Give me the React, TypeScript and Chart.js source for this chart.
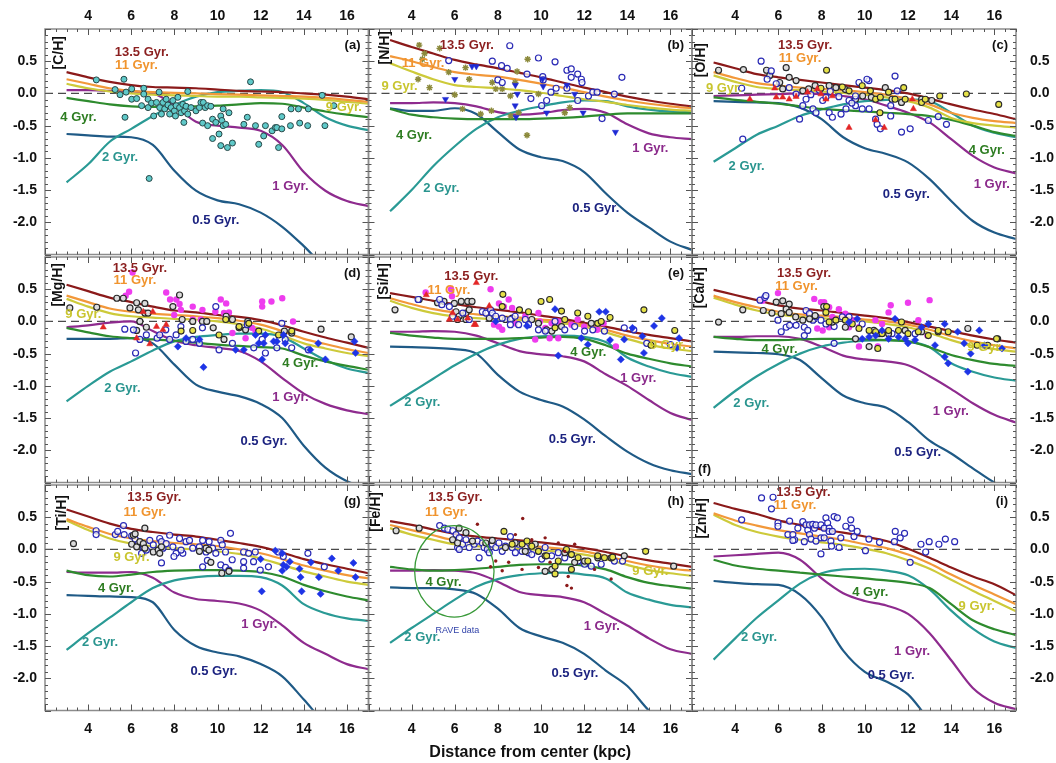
import React, { useEffect, useRef } from 'react';
import { Chart, registerables } from 'chart.js';

Chart.register(...registerables);

const W = 1056;
const H = 763;
const FONT = '"Liberation Sans", Arial, Helvetica, sans-serif';

const X_MIN = 2;
const X_MAX = 17;
const Y_MIN = -2.5;
const Y_MAX = 1.0;
const X_TICKS = [4, 6, 8, 10, 12, 14, 16];
const Y_TICKS = [-2.0, -1.5, -1.0, -0.5, 0.0, 0.5];
const MODEL_R = [3, 4, 5, 6, 7, 8, 9, 10, 11, 12, 13, 14, 15, 16, 17];
const AGE_LABELS = ['13.5 Gyr.', '11 Gyr.', '9 Gyr.', '4 Gyr.', '2 Gyr.', '1 Gyr.', '0.5 Gyr.'];
const X_TITLE = 'Distance from center (kpc)';

// ---------- model curves (R = 3..17 kpc) ----------
// (a) [C/H]
const CH_135 = [0.33, 0.25, 0.18, 0.13, 0.10, 0.09, 0.08, 0.06, 0.04, 0.03, 0.02, 0.00, -0.02, -0.05, -0.09];
const CH_11 = [0.22, 0.15, 0.08, 0.04, 0.02, 0.01, 0.00, -0.01, -0.02, -0.03, -0.04, -0.05, -0.07, -0.10, -0.13];
const CH_9 = [0.15, 0.08, 0.03, 0.00, -0.02, -0.03, -0.04, -0.05, -0.05, -0.06, -0.07, -0.08, -0.10, -0.13, -0.16];
const CH_4 = [-0.07, -0.12, -0.17, -0.20, -0.21, -0.21, -0.20, -0.19, -0.17, -0.15, -0.16, -0.22, -0.28, -0.33, -0.37];
const CH_2 = [-1.38, -1.10, -0.75, -0.55, -0.35, -0.18, -0.05, 0.02, 0.04, 0.05, 0.02, -0.15, -0.37, -0.50, -0.57];
const CH_1 = [0.05, 0.05, 0.04, 0.03, 0.00, -0.18, -0.44, -0.50, -0.53, -0.58, -0.80, -1.22, -1.51, -1.67, -1.75];
const CH_05 = [-0.63, -0.65, -0.67, -0.68, -0.80, -1.20, -1.51, -1.66, -1.72, -1.85, -2.07, -2.37, -2.70, -2.90, -3.10];
// (b) [N/H]
const NH_135 = [0.83, 0.72, 0.62, 0.52, 0.45, 0.39, 0.32, 0.25, 0.17, 0.09, 0.02, -0.05, -0.11, -0.16, -0.20];
const NH_11 = [0.58, 0.50, 0.41, 0.33, 0.29, 0.26, 0.21, 0.15, 0.09, 0.02, -0.05, -0.11, -0.16, -0.20, -0.23];
const NH_9 = [0.47, 0.34, 0.22, 0.13, 0.10, 0.08, 0.05, 0.01, -0.04, -0.09, -0.13, -0.18, -0.22, -0.25, -0.27];
const NH_4 = [-0.24, -0.33, -0.37, -0.39, -0.40, -0.40, -0.40, -0.39, -0.38, -0.36, -0.33, -0.31, -0.31, -0.31, -0.31];
const NH_2 = [-1.83, -1.50, -1.13, -0.82, -0.55, -0.37, -0.27, -0.20, -0.14, -0.11, -0.12, -0.20, -0.25, -0.28, -0.29];
const NH_1 = [-0.15, -0.15, -0.14, -0.15, -0.20, -0.29, -0.33, -0.31, -0.26, -0.24, -0.30, -0.48, -0.62, -0.68, -0.71];
const NH_05 = [-0.23, -0.27, -0.27, -0.23, -0.32, -0.60, -0.87, -0.99, -1.05, -1.22, -1.55, -1.85, -2.08, -2.30, -2.43];
// (c) [O/H]
const OH_135 = [0.48, 0.39, 0.30, 0.25, 0.21, 0.17, 0.13, 0.09, 0.05, 0.00, -0.08, -0.17, -0.25, -0.32, -0.40];
const OH_11 = [0.33, 0.24, 0.16, 0.12, 0.09, 0.07, 0.05, 0.02, -0.02, -0.08, -0.17, -0.30, -0.38, -0.43, -0.46];
const OH_9 = [0.28, 0.18, 0.10, 0.07, 0.05, 0.03, 0.01, -0.02, -0.06, -0.12, -0.22, -0.38, -0.46, -0.50, -0.53];
const OH_4 = [-0.06, -0.10, -0.13, -0.16, -0.20, -0.24, -0.26, -0.28, -0.30, -0.32, -0.35, -0.41, -0.50, -0.60, -0.66];
const OH_2 = [-1.06, -0.85, -0.64, -0.50, -0.35, -0.25, -0.17, -0.12, -0.10, -0.09, -0.12, -0.30, -0.50, -0.61, -0.68];
const OH_1 = [-0.04, -0.03, -0.02, -0.01, 0.00, -0.01, -0.04, -0.09, -0.19, -0.30, -0.45, -0.71, -0.97, -1.15, -1.24];
const OH_05 = [-0.12, -0.13, -0.14, -0.15, -0.22, -0.40, -0.68, -0.85, -0.94, -1.07, -1.33, -1.67, -1.98, -2.16, -2.26];
// (d) [Mg/H]
const MGH_135 = [0.57, 0.47, 0.37, 0.30, 0.23, 0.17, 0.14, 0.10, 0.07, 0.02, -0.06, -0.16, -0.25, -0.33, -0.41];
const MGH_11 = [0.40, 0.30, 0.20, 0.15, 0.12, 0.10, 0.08, 0.05, 0.01, -0.05, -0.15, -0.27, -0.35, -0.43, -0.49];
const MGH_9 = [0.35, 0.23, 0.13, 0.08, 0.06, 0.04, 0.03, 0.00, -0.04, -0.11, -0.22, -0.34, -0.42, -0.49, -0.54];
const MGH_4 = [-0.10, -0.17, -0.23, -0.26, -0.28, -0.30, -0.33, -0.36, -0.38, -0.40, -0.42, -0.53, -0.62, -0.69, -0.75];
const MGH_2 = [-1.24, -1.00, -0.78, -0.62, -0.45, -0.31, -0.24, -0.21, -0.19, -0.19, -0.24, -0.42, -0.60, -0.73, -0.80];
const MGH_1 = [-0.09, -0.06, -0.02, 0.00, -0.15, -0.30, -0.37, -0.41, -0.46, -0.62, -0.88, -1.12, -1.28, -1.38, -1.44];
const MGH_05 = [-0.27, -0.27, -0.27, -0.26, -0.34, -0.67, -0.98, -1.09, -1.16, -1.28, -1.50, -1.93, -2.27, -2.48, -2.60];
// (e) [Si/H]
const SIH_135 = [0.44, 0.38, 0.32, 0.27, 0.22, 0.18, 0.14, 0.09, 0.04, -0.02, -0.08, -0.15, -0.21, -0.26, -0.31];
const SIH_11 = [0.36, 0.27, 0.19, 0.14, 0.11, 0.08, 0.06, 0.03, 0.00, -0.05, -0.13, -0.22, -0.29, -0.35, -0.39];
const SIH_9 = [0.32, 0.21, 0.13, 0.08, 0.05, 0.03, 0.02, 0.00, -0.03, -0.08, -0.17, -0.27, -0.36, -0.42, -0.46];
const SIH_4 = [-0.18, -0.22, -0.25, -0.27, -0.27, -0.27, -0.26, -0.25, -0.24, -0.27, -0.37, -0.50, -0.58, -0.65, -0.70];
const SIH_2 = [-1.31, -1.10, -0.89, -0.68, -0.50, -0.36, -0.27, -0.23, -0.22, -0.24, -0.32, -0.56, -0.70, -0.80, -0.86];
const SIH_1 = [-0.16, -0.16, -0.15, -0.16, -0.22, -0.34, -0.46, -0.51, -0.54, -0.62, -0.82, -1.00, -1.22, -1.42, -1.53];
const SIH_05 = [-0.39, -0.40, -0.41, -0.43, -0.50, -0.83, -1.09, -1.22, -1.32, -1.52, -1.78, -2.02, -2.20, -2.31, -2.37];
// (f) [Ca/H]
const CAH_135 = [0.49, 0.41, 0.33, 0.25, 0.20, 0.17, 0.13, 0.09, 0.05, -0.01, -0.08, -0.15, -0.22, -0.28, -0.33];
const CAH_11 = [0.40, 0.30, 0.22, 0.15, 0.11, 0.09, 0.07, 0.03, 0.00, -0.05, -0.13, -0.23, -0.31, -0.37, -0.42];
const CAH_9 = [0.37, 0.26, 0.17, 0.11, 0.07, 0.05, 0.03, 0.00, -0.04, -0.09, -0.18, -0.29, -0.38, -0.43, -0.47];
const CAH_4 = [-0.24, -0.27, -0.29, -0.29, -0.28, -0.27, -0.27, -0.28, -0.29, -0.31, -0.40, -0.52, -0.60, -0.66, -0.69];
const CAH_2 = [-1.34, -1.08, -0.85, -0.66, -0.50, -0.39, -0.33, -0.30, -0.29, -0.31, -0.40, -0.65, -0.78, -0.87, -0.92];
const CAH_1 = [-0.24, -0.24, -0.23, -0.23, -0.27, -0.39, -0.53, -0.59, -0.62, -0.68, -0.85, -1.05, -1.27, -1.45, -1.57];
const CAH_05 = [-0.47, -0.48, -0.49, -0.51, -0.60, -0.88, -1.15, -1.27, -1.34, -1.56, -1.85, -2.05, -2.28, -2.50, -2.65];
// (g) [Ti/H]
const TIH_135 = [0.62, 0.51, 0.40, 0.32, 0.27, 0.23, 0.20, 0.15, 0.10, 0.04, -0.05, -0.15, -0.23, -0.30, -0.37];
const TIH_11 = [0.47, 0.35, 0.24, 0.17, 0.13, 0.10, 0.08, 0.05, 0.00, -0.06, -0.15, -0.25, -0.33, -0.40, -0.45];
const TIH_9 = [0.45, 0.30, 0.17, 0.09, 0.05, 0.02, 0.00, -0.03, -0.07, -0.14, -0.24, -0.34, -0.42, -0.50, -0.55];
const TIH_4 = [-0.33, -0.40, -0.42, -0.39, -0.35, -0.33, -0.32, -0.32, -0.33, -0.35, -0.42, -0.55, -0.65, -0.73, -0.79];
const TIH_2 = [-1.56, -1.30, -1.06, -0.82, -0.60, -0.48, -0.43, -0.41, -0.41, -0.43, -0.56, -0.85, -0.99, -1.07, -1.11];
const TIH_1 = [-0.35, -0.36, -0.36, -0.35, -0.44, -0.67, -0.77, -0.80, -0.84, -0.95, -1.18, -1.45, -1.62, -1.78, -1.86];
const TIH_05 = [-0.71, -0.72, -0.73, -0.74, -0.82, -1.25, -1.50, -1.60, -1.66, -1.78, -1.97, -2.33, -2.70, -2.95, -3.10];
// (h) [Fe/H]
const FEH_135 = [0.44, 0.38, 0.31, 0.24, 0.20, 0.17, 0.14, 0.11, 0.07, 0.02, -0.04, -0.11, -0.17, -0.22, -0.27];
const FEH_11 = [0.38, 0.30, 0.22, 0.14, 0.11, 0.08, 0.06, 0.04, 0.01, -0.03, -0.10, -0.18, -0.25, -0.30, -0.33];
const FEH_9 = [0.33, 0.23, 0.15, 0.08, 0.05, 0.03, 0.01, -0.01, -0.04, -0.08, -0.15, -0.24, -0.32, -0.37, -0.41];
const FEH_4 = [-0.27, -0.31, -0.33, -0.32, -0.30, -0.27, -0.24, -0.23, -0.23, -0.25, -0.31, -0.43, -0.52, -0.57, -0.61];
const FEH_2 = [-1.45, -1.22, -1.00, -0.78, -0.58, -0.46, -0.40, -0.37, -0.36, -0.39, -0.45, -0.67, -0.78, -0.86, -0.90];
const FEH_1 = [-0.33, -0.33, -0.32, -0.33, -0.37, -0.50, -0.66, -0.71, -0.74, -0.82, -1.00, -1.18, -1.38, -1.55, -1.62];
const FEH_05 = [-0.59, -0.60, -0.60, -0.62, -0.69, -0.92, -1.22, -1.35, -1.45, -1.62, -1.88, -2.12, -2.50, -2.80, -3.00];
// (i) [Zn/H]
const ZNH_135 = [0.72, 0.63, 0.55, 0.45, 0.38, 0.31, 0.26, 0.20, 0.13, 0.01, -0.13, -0.28, -0.42, -0.54, -0.71];
const ZNH_11 = [0.56, 0.45, 0.37, 0.30, 0.25, 0.20, 0.15, 0.08, 0.02, -0.08, -0.22, -0.39, -0.55, -0.70, -0.85];
const ZNH_9 = [0.54, 0.38, 0.27, 0.20, 0.15, 0.11, 0.07, 0.01, -0.06, -0.17, -0.30, -0.47, -0.64, -0.80, -0.96];
const ZNH_4 = [-0.16, -0.25, -0.30, -0.33, -0.36, -0.39, -0.42, -0.45, -0.48, -0.52, -0.60, -0.85, -1.10, -1.24, -1.33];
const ZNH_2 = [-1.71, -1.38, -1.06, -0.79, -0.53, -0.37, -0.31, -0.30, -0.33, -0.40, -0.62, -0.95, -1.23, -1.43, -1.53];
const ZNH_1 = [-0.11, -0.09, -0.07, -0.05, -0.16, -0.45, -0.68, -0.80, -0.87, -1.00, -1.30, -1.72, -2.15, -2.38, -2.48];
const ZNH_05 = [-0.49, -0.52, -0.54, -0.55, -0.70, -1.05, -1.57, -1.90, -2.05, -2.25, -2.65, -2.95, -3.20, -3.40, -3.60];

// ---------- observed abundances [R, value] ----------
const CH_OBS = [[4.38,0.21],[5.66,0.22],[5.25,0.06],[5.48,-0.02],[5.76,0.02],[6.02,0.07],[6.02,-0.09],[6.25,-0.08],[5.71,-0.37],[6.58,0.08],[6.58,-0.01],[6.48,-0.19],[6.78,-0.09],[6.78,-0.22],[6.94,-0.15],[7.04,-0.35],[7.17,-0.14],[7.29,0.02],[7.32,-0.22],[7.4,-0.32],[7.47,-0.14],[7.55,-0.24],[7.62,-0.09],[7.7,-0.18],[7.78,-0.32],[7.85,-0.22],[7.93,-0.11],[8.0,-0.27],[8.05,-0.35],[8.08,-0.19],[8.16,-0.06],[8.24,-0.22],[8.31,-0.3],[8.39,-0.17],[8.47,-0.27],[8.54,-0.2],[8.44,-0.45],[8.62,-0.32],[8.77,-0.22],[8.62,0.03],[9.0,-0.27],[9.16,-0.22],[9.23,-0.14],[9.34,-0.14],[9.43,-0.22],[9.54,-0.19],[9.69,-0.2],[9.31,-0.46],[9.54,-0.5],[9.77,-0.4],[9.77,-0.7],[9.92,-0.45],[10.07,-0.63],[10.15,-0.35],[10.2,-0.42],[10.26,-0.5],[10.15,-0.81],[10.26,-0.24],[10.38,-0.48],[10.46,-0.84],[10.53,-0.3],[10.69,-0.77],[11.22,-0.48],[11.38,-0.37],[11.53,0.18],[11.76,-0.5],[11.91,-0.79],[12.14,-0.66],[12.22,-0.5],[12.53,-0.58],[12.68,-0.53],[12.75,-0.53],[12.83,-0.84],[12.98,-0.36],[12.98,-0.55],[13.38,-0.5],[13.41,-0.24],[13.81,-0.46],[13.75,-0.24],[14.18,-0.5],[14.21,-0.24],[14.85,-0.03],[14.98,-0.5],[15.39,-0.19],[6.83,-1.32]];

const NH_CIRC = [[8.55,0.74],[5.72,0.51],[7.74,0.5],[8.17,0.43],[8.43,0.39],[8.0,0.21],[8.2,0.17],[9.35,0.3],[9.88,0.55],[10.65,0.49],[10.08,0.26],[10.1,0.21],[11.2,0.36],[11.4,0.38],[11.4,0.25],[11.7,0.3],[11.87,0.22],[11.9,0.17],[10.7,0.08],[10.46,0.02],[11.2,0.08],[9.53,-0.08],[10.26,-0.11],[10.03,-0.19],[11.7,-0.11],[12.2,-0.04],[12.4,0.02],[12.6,0.02],[13.4,-0.01],[13.75,0.25],[12.83,-0.39]];
const NH_STAR = [[4.35,0.75],[4.6,0.62],[4.5,0.53],[4.3,0.22],[4.83,0.09],[5.3,0.7],[5.72,0.33],[6.0,-0.02],[6.5,0.4],[6.67,0.22],[6.36,-0.24],[7.74,0.17],[7.9,0.07],[8.2,0.07],[8.58,-0.04],[8.89,0.34],[8.8,0.17],[9.38,0.53],[9.35,-0.65],[9.88,-0.01],[11.33,-0.22],[11.1,-0.3],[8.96,-0.3],[8.6,-0.35],[7.7,-0.27],[7.2,-0.32]];
const NH_TRI = [[6.8,0.42],[7.0,0.42],[6.0,0.22],[5.57,-0.09],[8.81,0.13],[8.9,-0.01],[8.8,-0.19],[8.84,-0.37],[10.1,0.11],[10.07,0.22],[11.2,0.13],[11.56,-0.01],[10.26,-0.3],[11.95,-0.3],[13.45,-0.6]];

const OH_BLK = [[3.23,0.36],[4.38,0.37],[5.45,0.36],[5.6,0.28],[6.36,0.4],[6.06,0.17],[6.5,0.25],[6.82,0.2],[6.2,0.07],[7.13,0.04],[7.4,0.07],[7.7,0.12],[8.35,0.12],[8.66,0.09],[9.1,0.06],[9.57,-0.09],[9.9,-0.04],[10.3,-0.06],[10.95,0.09],[11.26,-0.09],[11.7,-0.14],[12.63,-0.09],[13.1,-0.11]];
const OH_YEL = [[8.23,0.36],[7.97,0.08],[8.96,0.1],[9.27,0.04],[9.88,0.12],[10.26,0.04],[10.5,-0.09],[10.72,-0.06],[11.1,0.02],[11.4,-0.09],[11.8,0.09],[11.87,-0.09],[12.63,-0.14],[12.8,-0.09],[13.47,-0.04],[14.7,-0.01],[16.2,-0.17],[10.7,-0.3]];
const OH_BLUE = [[5.2,0.5],[5.67,0.35],[5.48,0.22],[5.9,0.15],[4.35,-0.71],[4.3,0.08],[6.5,0.09],[6.82,-0.01],[7.28,-0.09],[7.13,-0.19],[7.6,-0.24],[7.74,-0.3],[6.98,-0.4],[8.05,-0.11],[8.2,-0.06],[8.35,-0.3],[8.5,-0.37],[8.9,-0.32],[9.13,-0.24],[9.27,-0.11],[9.57,-0.04],[9.73,0.17],[10.19,0.2],[10.1,0.22],[9.57,-0.19],[9.88,-0.24],[10.2,-0.24],[10.5,-0.4],[10.57,-0.48],[10.72,-0.55],[11.2,-0.35],[11.2,-0.19],[11.4,0.27],[11.5,0.04],[11.7,-0.6],[12.1,-0.55],[12.94,-0.42],[13.4,-0.36],[13.78,-0.48],[7.9,0.05],[8.4,0.03],[8.8,-0.05],[9.4,-0.15],[7.5,-0.02]];
const OH_RED = [[4.68,-0.09],[5.83,0.08],[5.9,-0.06],[6.2,-0.06],[6.5,-0.09],[6.82,-0.05],[7.35,0.02],[7.8,0.07],[7.97,-0.01],[8.2,-0.09],[8.5,-0.04],[9.27,-0.53],[10.5,-0.41],[10.9,-0.53],[12.2,-0.09],[12.25,-0.24]];

const MGH_MAG = [[6.06,0.76],[5.9,0.46],[5.74,0.4],[7.62,0.45],[7.8,0.34],[8.09,0.34],[8.24,0.27],[8.3,0.18],[8.85,0.23],[9.3,0.18],[9.23,0.03],[10.15,0.34],[10.4,0.28],[9.9,0.15],[10.3,0.13],[10.53,0.14],[11.6,-0.1],[11.76,-0.15],[12.07,0.31],[12.07,0.23],[12.5,0.31],[13.0,0.36],[13.5,0.0],[11.3,-0.26],[10.69,-0.18],[8.85,0.03],[7.99,0.1]];
const MGH_BLK = [[3.15,0.21],[4.4,0.22],[5.33,0.36],[5.63,0.36],[6.25,0.29],[6.63,0.28],[5.94,0.21],[6.33,0.18],[6.63,0.13],[6.78,0.13],[6.4,0.0],[6.7,-0.09],[6.25,-0.14],[7.93,0.23],[8.24,0.41],[8.36,0.03],[8.85,0.0],[9.3,0.0],[9.5,0.0],[9.8,-0.1],[10.4,0.08],[10.69,0.03],[11.0,-0.1],[10.3,-0.28],[11.3,-0.13],[11.4,0.0],[13.1,-0.15],[13.44,-0.18],[14.8,-0.12],[16.2,-0.24]];
const MGH_BLUE = [[6.1,-0.13],[6.2,-0.49],[5.7,-0.12],[6.4,-0.28],[6.7,-0.21],[7.2,-0.26],[7.32,-0.21],[7.6,-0.13],[7.78,-0.28],[8.08,-0.21],[8.3,-0.08],[8.54,-0.31],[8.85,-0.28],[9.16,-0.34],[9.3,-0.1],[9.92,0.23],[10.07,-0.44],[10.69,-0.34],[11.38,-0.05],[11.68,-0.41],[12.07,-0.28],[12.22,-0.49],[12.75,-0.41],[12.98,-0.03],[13.14,-0.28],[13.44,-0.41],[14.21,-0.44]];
const MGH_DIAM = [[9.35,-0.71],[8.16,-0.39],[8.54,-0.26],[9.16,-0.28],[10.84,-0.44],[11.22,-0.44],[11.76,-0.21],[11.91,-0.34],[12.14,-0.34],[12.22,-0.21],[12.07,-0.59],[12.6,-0.31],[12.75,-0.31],[13.06,-0.21],[13.14,-0.34],[14.3,-0.44],[14.67,-0.34],[15.0,-0.59],[16.35,-0.31],[16.4,-0.49]];
const MGH_RED = [[4.7,-0.09],[6.25,-0.26],[6.86,-0.35],[7.17,-0.08],[7.47,-0.13],[7.62,-0.05],[6.55,0.15],[7.0,0.15]];
const MGH_YEL = [[8.31,-0.15],[8.85,-0.14],[10.07,-0.21],[10.38,0.03],[11.0,-0.08],[11.45,-0.03],[11.91,-0.15],[12.83,-0.21],[13.44,-0.15]];

const SIH_MAG = [[4.65,0.45],[5.83,0.5],[5.87,0.39],[7.66,0.5],[8.05,0.28],[8.28,0.23],[8.5,0.34],[8.66,0.21],[7.82,-0.05],[8.05,-0.08],[8.2,-0.13],[8.8,-0.03],[9.27,0.08],[9.88,0.13],[9.95,0.0],[10.2,-0.1],[10.49,-0.03],[10.8,0.0],[11.1,0.03],[11.41,-0.05],[11.7,0.03],[12.0,-0.08],[9.73,-0.28],[10.4,-0.26],[10.8,-0.26],[12.6,-0.13],[12.9,-0.03],[13.47,-0.39]];
const SIH_BLK = [[3.23,0.18],[4.35,0.34],[5.2,0.29],[5.5,0.31],[5.98,0.28],[6.3,0.31],[6.6,0.31],[6.8,0.31],[6.06,0.15],[6.2,0.08],[6.52,0.13],[6.67,0.18],[6.52,0.03],[6.13,0.03],[7.6,0.05],[8.35,0.03],[8.66,0.05],[9.57,0.03],[9.88,-0.03],[10.26,-0.13],[10.5,-0.15],[10.95,-0.08],[12.33,-0.03]];
const SIH_BLUE = [[4.3,0.34],[5.3,0.34],[5.4,0.26],[5.75,0.23],[5.9,0.08],[6.37,0.13],[6.67,0.03],[7.28,0.15],[7.44,0.13],[7.66,0.18],[7.74,0.13],[7.9,0.08],[8.2,0.05],[8.58,0.03],[8.8,0.08],[8.58,-0.05],[8.96,-0.05],[9.27,0.03],[9.42,-0.05],[9.88,-0.13],[10.2,-0.15],[10.65,0.0],[11.1,-0.13],[11.56,-0.08],[12.02,-0.15],[12.4,-0.13],[12.94,-0.15],[13.86,-0.1],[14.3,-0.13],[14.9,-0.34],[16.0,-0.36]];
const SIH_YEL = [[8.23,0.42],[10.0,0.31],[10.4,0.34],[10.95,0.16],[9.0,0.18],[9.42,0.15],[8.2,0.23],[10.65,-0.1],[11.1,0.03],[11.7,0.13],[12.17,0.08],[12.63,-0.03],[12.79,0.0],[13.2,0.06],[14.77,0.18],[16.2,-0.14],[15.1,-0.37]];
const SIH_RED = [[4.68,0.41],[7.0,0.6],[7.6,0.24],[5.75,0.03],[6.9,-0.05],[6.97,-0.05],[6.13,0.03],[6.6,0.05],[5.9,0.13]];
const SIH_DIAM = [[10.65,0.19],[11.87,-0.26],[12.17,-0.36],[12.7,0.15],[13.0,0.15],[13.2,-0.29],[13.7,-0.59],[13.86,-0.28],[14.24,-0.1],[14.7,-0.23],[15.24,-0.07],[15.6,0.05],[14.77,-0.49],[16.3,-0.41],[16.4,-0.26],[10.8,-0.53],[9.35,-0.07],[7.9,0.0]];

const CAH_MAG = [[5.98,0.44],[5.26,0.32],[7.66,0.35],[7.97,0.3],[8.12,0.3],[8.35,0.22],[8.8,0.19],[9.1,0.12],[8.5,0.07],[9.42,0.02],[9.73,-0.09],[10.49,0.02],[10.8,-0.04],[11.1,0.14],[11.2,0.25],[12.0,0.29],[13.0,0.33],[12.48,0.02],[12.9,-0.22],[9.73,-0.39],[10.6,-0.39],[9.27,-0.09],[7.8,-0.11],[8.05,-0.14],[8.35,-0.09]];
const CAH_BLK = [[3.23,-0.01],[4.35,0.18],[5.3,0.17],[5.7,0.13],[5.9,0.3],[6.2,0.32],[6.5,0.27],[6.36,0.19],[6.13,0.12],[6.5,0.14],[6.8,0.07],[7.13,0.02],[7.44,0.04],[7.7,0.09],[8.1,0.23],[8.5,-0.01],[9.1,-0.09],[9.57,-0.27],[10.2,-0.39],[10.42,-0.14],[10.65,-0.19],[11.1,-0.19],[11.87,-0.14],[12.63,-0.16],[13.4,-0.16],[14.77,-0.11],[16.15,-0.27]];
const CAH_BLUE = [[5.15,0.33],[5.37,0.37],[5.42,0.4],[5.98,0.02],[6.13,-0.16],[6.36,-0.09],[6.52,-0.06],[6.82,-0.06],[7.2,-0.09],[7.28,0.17],[7.36,-0.14],[7.44,0.12],[7.2,-0.22],[7.6,0.02],[7.74,0.07],[7.97,0.02],[8.2,-0.04],[8.58,-0.08],[8.58,-0.34],[8.96,0.07],[9.27,0.07],[9.88,-0.04],[11.26,-0.19],[12.33,-0.19]];
const CAH_YEL = [[8.23,0.23],[8.2,0.14],[8.35,-0.01],[8.66,0.02],[9.1,0.02],[9.42,-0.04],[9.73,-0.11],[10.2,-0.14],[10.5,-0.16],[10.8,-0.19],[11.1,-0.14],[11.56,-0.14],[11.7,-0.01],[12.0,-0.19],[12.48,-0.16],[12.94,-0.22],[13.4,-0.14],[13.86,-0.16],[15.2,-0.37],[15.69,-0.37],[16.1,-0.27],[10.6,-0.42]];
const CAH_DIAM = [[9.27,-0.01],[9.65,0.04],[9.88,-0.27],[10.2,-0.24],[10.5,-0.22],[10.8,-0.14],[11.1,-0.27],[11.4,0.04],[11.56,-0.24],[11.87,-0.27],[12.0,-0.34],[12.33,-0.29],[12.63,-0.09],[12.94,-0.04],[13.25,-0.37],[13.7,-0.04],[13.7,-0.55],[13.86,-0.65],[14.3,-0.16],[14.6,-0.34],[14.9,-0.5],[14.77,-0.78],[15.3,-0.14],[15.54,-0.37],[16.35,-0.42]];

const TIH_BLUE = [[4.37,0.29],[4.37,0.23],[5.26,0.23],[5.37,0.28],[5.64,0.37],[5.67,0.23],[6.02,0.21],[6.18,0.16],[6.33,0.09],[6.56,0.04],[6.48,-0.06],[6.7,-0.01],[6.86,0.14],[7.02,0.07],[7.32,0.17],[7.4,0.12],[7.47,0.02],[7.4,-0.21],[7.62,0.09],[7.78,0.22],[7.93,0.04],[8.08,-0.06],[8.24,0.17],[8.39,-0.06],[8.54,0.12],[8.7,0.14],[8.85,0.02],[7.98,-0.11],[8.31,-0.01],[9.16,0.04],[9.31,0.14],[9.47,-0.04],[9.61,0.12],[9.77,0.02],[9.92,-0.06],[10.15,0.14],[10.22,0.07],[10.37,-0.04],[10.6,0.25],[10.68,-0.16],[10.15,-0.24],[10.37,-0.28],[10.53,-0.32],[9.31,-0.27],[9.53,-0.17],[11.21,-0.04],[11.21,-0.19],[11.44,-0.06],[11.75,-0.04],[11.21,-0.29],[11.67,-0.19],[11.98,-0.32],[12.36,-0.27],[12.82,-0.04],[13.05,-0.11],[14.19,-0.06],[14.95,-0.27]];
const TIH_BLK = [[3.32,0.09],[6.02,0.08],[6.1,0.22],[6.25,0.04],[6.4,0.12],[6.56,0.09],[6.63,0.02],[7.02,-0.04],[7.25,-0.01],[7.32,-0.06],[7.4,0.04],[9.16,-0.03],[9.47,0.02],[9.6,-0.01],[9.69,-0.2],[10.2,-0.37],[10.53,-0.34],[6.63,0.33],[6.18,0.24]];
const TIH_DIAM = [[12.0,-0.15],[12.05,-0.65],[12.68,-0.02],[13.0,-0.06],[13.0,-0.33],[13.05,-0.24],[13.2,-0.27],[13.35,-0.19],[13.8,-0.3],[13.85,-0.43],[13.9,-0.65],[14.33,-0.2],[14.7,-0.43],[14.78,-0.69],[15.3,-0.14],[15.6,-0.33],[16.3,-0.21],[16.4,-0.43]];

const FEH_BLUE = [[5.3,0.37],[5.52,0.33],[5.68,0.31],[5.91,0.29],[6.06,0.23],[6.21,0.18],[6.13,0.03],[6.36,0.08],[6.52,0.15],[6.67,0.03],[6.9,0.08],[7.05,0.13],[7.28,0.1],[7.36,0.03],[7.51,0.0],[7.6,-0.05],[7.74,0.08],[7.9,0.03],[8.05,0.1],[8.2,-0.03],[8.35,0.05],[8.58,0.2],[8.66,0.03],[8.81,-0.05],[8.96,0.08],[9.12,-0.03],[9.27,0.03],[9.42,-0.05],[9.57,-0.08],[9.88,-0.03],[10.03,-0.15],[10.19,0.03],[10.49,-0.1],[10.8,-0.05],[11.1,-0.13],[11.41,-0.08],[11.72,-0.18],[12.02,-0.23],[12.33,-0.26],[12.79,-0.23],[13.4,-0.18],[13.78,-0.18],[7.13,-0.13],[6.21,0.0]];
const FEH_BLK = [[3.28,0.29],[4.35,0.33],[6.2,0.33],[5.9,0.15],[6.13,0.1],[6.52,0.26],[6.82,0.13],[7.44,0.1],[7.74,0.14],[8.35,0.03],[8.8,0.1],[9.27,-0.03],[9.73,0.08],[10.19,-0.1],[10.5,-0.31],[10.19,-0.34],[11.1,-0.05],[11.56,-0.2],[12.02,-0.18],[12.63,-0.13],[13.25,-0.13],[13.86,-0.1],[16.15,-0.26]];
const FEH_YEL = [[8.28,0.28],[8.66,0.08],[9.12,0.08],[9.35,0.13],[9.57,0.05],[9.88,-0.03],[10.26,-0.1],[10.65,-0.26],[10.8,-0.18],[11.18,0.0],[11.41,-0.08],[11.72,-0.13],[12.17,-0.18],[12.63,-0.1],[12.94,-0.13],[13.32,-0.12],[14.85,-0.03],[11.41,-0.31],[10.65,-0.38]];
const FEH_RED = [[7.05,0.39],[9.15,0.48],[8.81,0.23],[9.57,0.15],[10.19,0.18],[10.8,0.1],[11.56,0.08],[11.1,-0.03],[7.66,-0.27],[8.2,-0.33],[9.12,-0.31],[9.88,-0.28],[10.42,-0.2],[11.26,-0.42],[11.2,-0.56],[11.41,-0.6],[13.25,-0.46],[12.48,-0.31],[7.9,-0.18],[8.5,-0.2]];
// RAVE ellipse: centre R, centre [Fe/H], half-width R, half-height [Fe/H]
const FEH_RAVE = [5.98, -0.34, 1.84, 0.71];

const ZNH_BLUE = [[5.22,0.8],[5.75,0.81],[5.68,0.63],[4.3,0.46],[5.98,0.41],[5.98,0.36],[6.52,0.44],[6.44,0.23],[6.67,0.23],[6.75,0.15],[6.9,0.33],[7.13,0.43],[7.28,0.38],[7.36,0.3],[7.44,0.38],[7.59,0.39],[7.67,0.33],[7.74,0.38],[7.97,0.38],[8.12,0.33],[8.2,0.49],[8.28,0.41],[8.35,0.33],[7.44,0.23],[7.51,0.16],[7.74,0.13],[7.97,0.18],[8.12,0.18],[7.2,0.12],[6.67,0.14],[8.35,0.28],[8.43,0.13],[8.5,0.28],[8.58,0.51],[8.73,0.49],[8.89,0.18],[8.81,0.03],[8.46,0.05],[7.97,-0.07],[9.12,0.36],[9.35,0.46],[9.39,0.33],[9.5,0.2],[9.65,0.28],[10.19,0.16],[10.68,0.11],[10.03,-0.02],[11.41,0.28],[11.64,0.18],[11.84,0.25],[11.37,0.12],[12.1,-0.2],[12.6,0.08],[12.82,-0.04],[12.98,0.12],[13.43,0.08],[13.73,0.16],[14.16,0.12]];

// ---------- layout / style (not data) ----------
const COL_L = [45, 368.5, 692];
const COL_R = [368.5, 692, 1016];
const ROW_T = [29, 257, 485];
const ROW_B = [254.5, 482.5, 710.5];

const LINE_COLORS = ['#8b1a1a', '#f2983a', '#cdca3a', '#2e8b2e', '#2a9a95', '#8e2b8e', '#1f5a86'];
const LABEL_COLORS = ['#8b1f1f', '#f0942e', '#c9c52f', '#2e7d22', '#2a958f', '#8b2a8b', '#1c2380'];

const PT: any = {
  teal: { ps: 'circle', r: 3, bg: '#5fc9c9', bc: '#274646', bw: 1 },
  blueOpen: { ps: 'circle', r: 3, bg: 'rgba(255,255,255,0.75)', bc: '#2a2ab5', bw: 1.2 },
  blackOpen: { ps: 'circle', r: 3, bg: '#dcdcdc', bc: '#2a2a2a', bw: 1.2 },
  yellow: { ps: 'circle', r: 3, bg: '#e6e248', bc: '#2a2a2a', bw: 1.1 },
  magenta: { ps: 'circle', r: 3.2, bg: '#ee3cee', bc: '#ee3cee', bw: 0 },
  redTri: { ps: 'triangle', r: 3.6, bg: '#e32626', bc: '#e32626', bw: 0.5 },
  blueDiam: { ps: 'rectRot', r: 3.6, bg: '#1e34e6', bc: '#1e34e6', bw: 0.5 },
  blueDown: { ps: 'triangle', r: 3.6, rot: 180, bg: '#1e2ad4', bc: '#1e2ad4', bw: 0.5 },
  oliveStar: { ps: 'star', r: 3.2, bg: '#8c8a3c', bc: '#8c8a3c', bw: 1.4 },
  redDot: { ps: 'circle', r: 1.7, bg: '#8b1a1a', bc: '#8b1a1a', bw: 0 },
};

// label anchor positions [R, value] for 13.5, 11, 9, 4, 2, 1, 0.5 Gyr
const LBL_A = [[6.49, 0.63], [6.24, 0.44], [15.86, -0.21], [3.55, -0.38], [5.48, -0.99], [13.38, -1.45], [9.92, -1.97]];
const LBL_B = [[6.56, 0.74], [4.53, 0.47], [3.44, 0.11], [4.11, -0.65], [5.38, -1.47], [15.07, -0.86], [12.54, -1.78]];
const LBL_C = [[7.24, 0.75], [7.0, 0.55], [3.48, 0.08], [15.65, -0.89], [4.53, -1.14], [15.88, -1.41], [11.92, -1.56]];
const LBL_D = [[6.4, 0.83], [6.17, 0.63], [3.78, 0.11], [13.84, -0.65], [5.59, -1.04], [13.38, -1.18], [12.15, -1.86]];
const LBL_E = [[6.77, 0.7], [5.73, 0.48], [15.88, -0.37], [12.19, -0.48], [4.5, -1.25], [14.51, -0.88], [11.45, -1.83]];
const LBL_F = [[7.19, 0.74], [6.84, 0.55], [15.58, -0.4], [6.05, -0.44], [4.75, -1.27], [13.98, -1.39], [12.45, -2.04]];
const LBL_G = [[7.07, 0.8], [6.63, 0.58], [6.01, -0.13], [5.29, -0.6], [4.55, -1.44], [11.94, -1.17], [9.83, -1.9]];
const LBL_H = [[6.03, 0.8], [5.61, 0.58], [15.07, -0.34], [5.48, -0.51], [4.5, -1.36], [12.82, -1.2], [11.57, -1.92]];
const LBL_I = [[7.16, 0.88], [6.77, 0.69], [15.18, -0.88], [10.25, -0.66], [5.1, -1.36], [12.19, -1.58], [11.22, -1.95]];

const PANELS: any[] = [
  { id: 'a', col: 0, row: 0, ylabel: '[C/H]', letter: '(a)', yl: [14, 7], labels: LBL_A,
    curves: [CH_135, CH_11, CH_9, CH_4, CH_2, CH_1, CH_05], points: [[CH_OBS, 'teal']] },
  { id: 'b', col: 1, row: 0, ylabel: '[N/H]', letter: '(b)', yl: [17, 2], labels: LBL_B,
    curves: [NH_135, NH_11, NH_9, NH_4, NH_2, NH_1, NH_05], points: [[NH_TRI, 'blueDown'], [NH_CIRC, 'blueOpen'], [NH_STAR, 'oliveStar']] },
  { id: 'c', col: 2, row: 0, ylabel: '[O/H]', letter: '(c)', yl: [9, 14], labels: LBL_C,
    curves: [OH_135, OH_11, OH_9, OH_4, OH_2, OH_1, OH_05], points: [[OH_RED, 'redTri'], [OH_YEL, 'yellow'], [OH_BLUE, 'blueOpen'], [OH_BLK, 'blackOpen']] },
  { id: 'd', col: 0, row: 1, ylabel: '[Mg/H]', letter: '(d)', yl: [13, 6], labels: LBL_D,
    curves: [MGH_135, MGH_11, MGH_9, MGH_4, MGH_2, MGH_1, MGH_05], points: [[MGH_DIAM, 'blueDiam'], [MGH_RED, 'redTri'], [MGH_YEL, 'yellow'], [MGH_BLUE, 'blueOpen'], [MGH_BLK, 'blackOpen'], [MGH_MAG, 'magenta']] },
  { id: 'e', col: 1, row: 1, ylabel: '[Si/H]', letter: '(e)', yl: [16, 6], labels: LBL_E,
    curves: [SIH_135, SIH_11, SIH_9, SIH_4, SIH_2, SIH_1, SIH_05], points: [[SIH_DIAM, 'blueDiam'], [SIH_RED, 'redTri'], [SIH_YEL, 'yellow'], [SIH_BLUE, 'blueOpen'], [SIH_BLK, 'blackOpen'], [SIH_MAG, 'magenta']] },
  { id: 'f', col: 2, row: 1, ylabel: '[Ca/H]', letter: '(f)', yl: [8, 10], labels: LBL_F, letterLeft: true,
    curves: [CAH_135, CAH_11, CAH_9, CAH_4, CAH_2, CAH_1, CAH_05], points: [[CAH_DIAM, 'blueDiam'], [CAH_YEL, 'yellow'], [CAH_BLK, 'blackOpen'], [CAH_BLUE, 'blueOpen'], [CAH_MAG, 'magenta']] },
  { id: 'g', col: 0, row: 2, ylabel: '[Ti/H]', letter: '(g)', yl: [17, 10], labels: LBL_G,
    curves: [TIH_135, TIH_11, TIH_9, TIH_4, TIH_2, TIH_1, TIH_05], points: [[TIH_DIAM, 'blueDiam'], [TIH_BLK, 'blackOpen'], [TIH_BLUE, 'blueOpen']] },
  { id: 'h', col: 1, row: 2, ylabel: '[Fe/H]', letter: '(h)', yl: [8, 7], labels: LBL_H, rave: FEH_RAVE,
    curves: [FEH_135, FEH_11, FEH_9, FEH_4, FEH_2, FEH_1, FEH_05], points: [[FEH_RED, 'redDot'], [FEH_YEL, 'yellow'], [FEH_BLK, 'blackOpen'], [FEH_BLUE, 'blueOpen']] },
  { id: 'i', col: 2, row: 2, ylabel: '[Zn/H]', letter: '(i)', yl: [10, 13], labels: LBL_I,
    curves: [ZNH_135, ZNH_11, ZNH_9, ZNH_4, ZNH_2, ZNH_1, ZNH_05], points: [[ZNH_BLUE, 'blueOpen']] },
];

function buildConfig(p: any) {
  const { col, row } = p;
  const tickFont = { family: FONT, size: 14, weight: 'bold' as const };
  const showX = row === 0 || row === 2;
  const showY = col !== 1;

  const datasets: any[] = [];
  p.points.forEach(([pts, key]: any) => {
    const s = PT[key];
    datasets.push({
      data: pts.map(([x, y]: number[]) => ({ x, y })),
      showLine: false,
      pointStyle: s.ps,
      pointRadius: s.r,
      pointHoverRadius: s.r,
      pointRotation: s.rot || 0,
      backgroundColor: s.bg,
      borderColor: s.bc,
      borderWidth: s.bw,
      pointBackgroundColor: s.bg,
      pointBorderColor: s.bc,
      pointBorderWidth: s.bw,
      order: 0,
    });
  });
  p.curves.forEach((vals: number[], i: number) => {
    datasets.push({
      data: MODEL_R.map((r, k) => ({ x: r, y: vals[k] })),
      showLine: true,
      borderColor: LINE_COLORS[i],
      backgroundColor: LINE_COLORS[i],
      borderWidth: 2.2,
      pointRadius: 0,
      pointHoverRadius: 0,
      cubicInterpolationMode: 'monotone',
      fill: false,
      order: 10 + i,
    });
  });

  const decor = {
    id: 'decor' + p.id,
    beforeDatasetsDraw(chart: any) {
      const { ctx, chartArea: ca, scales } = chart;
      const y0 = scales.y.getPixelForValue(0);
      ctx.save();
      ctx.setLineDash([8, 5]);
      ctx.strokeStyle = '#4a4a4a';
      ctx.lineWidth = 1.2;
      ctx.beginPath();
      ctx.moveTo(ca.left, y0);
      ctx.lineTo(ca.right, y0);
      ctx.stroke();
      ctx.restore();
    },
    afterDatasetsDraw(chart: any) {
      const { ctx, chartArea: ca, scales } = chart;
      const xs = scales.x;
      const ys = scales.y;
      ctx.save();
      ctx.beginPath();
      ctx.rect(ca.left, ca.top, ca.width, ca.height);
      ctx.clip();
      if (p.rave) {
        const [cx, cy, rx, ry] = p.rave;
        const px = xs.getPixelForValue(cx);
        const py = ys.getPixelForValue(cy);
        const prx = Math.abs(xs.getPixelForValue(cx + rx) - px);
        const pry = Math.abs(ys.getPixelForValue(cy + ry) - py);
        ctx.strokeStyle = '#3a9a3a';
        ctx.lineWidth = 1.3;
        ctx.beginPath();
        ctx.ellipse(px, py, prx, pry, 0, 0, Math.PI * 2);
        ctx.stroke();
        ctx.fillStyle = '#3344aa';
        ctx.font = `9px ${FONT}`;
        ctx.textAlign = 'center';
        ctx.textBaseline = 'middle';
        ctx.fillText('RAVE data', px + 3, py + pry + 13);
      }
      ctx.font = `bold 13px ${FONT}`;
      ctx.textAlign = 'center';
      ctx.textBaseline = 'middle';
      p.labels.forEach((pos: number[], i: number) => {
        if (!pos) return;
        ctx.fillStyle = LABEL_COLORS[i];
        ctx.fillText(AGE_LABELS[i], xs.getPixelForValue(pos[0]), ys.getPixelForValue(pos[1]));
      });
      ctx.restore();

      // frame
      ctx.save();
      ctx.strokeStyle = '#8c8c8c';
      ctx.lineWidth = 1.5;
      ctx.strokeRect(ca.left, ca.top, ca.width, ca.height);
      // inward ticks
      ctx.strokeStyle = '#555';
      ctx.lineWidth = 1;
      ctx.beginPath();
      for (let k = X_MIN * 2; k <= X_MAX * 2; k++) {
        const v = k / 2;
        const px = Math.round(xs.getPixelForValue(v)) + 0.5;
        const len = k % 4 === 0 ? 6 : 3;
        ctx.moveTo(px, ca.top);
        ctx.lineTo(px, ca.top + len);
        ctx.moveTo(px, ca.bottom);
        ctx.lineTo(px, ca.bottom - len);
      }
      for (let k = Math.round(Y_MIN * 10); k <= Math.round(Y_MAX * 10); k++) {
        const py = Math.round(ys.getPixelForValue(k / 10)) + 0.5;
        const len = k % 5 === 0 ? 6 : 3;
        ctx.moveTo(ca.left, py);
        ctx.lineTo(ca.left + len, py);
        ctx.moveTo(ca.right, py);
        ctx.lineTo(ca.right - len, py);
      }
      ctx.stroke();

      // panel letter
      ctx.fillStyle = '#111';
      ctx.font = `bold 13px ${FONT}`;
      ctx.textBaseline = 'middle';
      if (p.letterLeft) {
        ctx.textAlign = 'left';
        ctx.fillText(p.letter, ca.left + 6, ca.bottom - 13);
      } else {
        ctx.textAlign = 'right';
        ctx.fillText(p.letter, ca.right - 8, ca.top + 16);
      }
      // element label (rotated)
      ctx.translate(ca.left + p.yl[0], ca.top + p.yl[1]);
      ctx.rotate(-Math.PI / 2);
      ctx.textAlign = 'right';
      ctx.textBaseline = 'middle';
      ctx.font = `bold 14px ${FONT}`;
      ctx.fillText(p.ylabel, 0, 0);
      ctx.restore();
    },
  };

  const xScale: any = {
    type: 'linear',
    min: X_MIN,
    max: X_MAX,
    display: showX,
    position: row === 0 ? 'top' : 'bottom',
    grid: { display: false, drawTicks: false },
    border: { display: false },
    ticks: {
      font: tickFont,
      color: '#111',
      padding: row === 0 ? 4 : 10,
      maxRotation: 0,
      autoSkip: false,
      callback: (v: any) => String(v),
    },
    title: col === 1 && row === 2
      ? { display: true, text: X_TITLE, color: '#111', font: { family: FONT, size: 16, weight: 'bold' }, padding: { top: 0, bottom: 1 } }
      : { display: false },
    afterBuildTicks: (s: any) => { s.ticks = X_TICKS.map((v) => ({ value: v })); },
  };
  if (showX) {
    xScale.afterFit = (s: any) => { s.height = row === 0 ? ROW_T[0] : H - ROW_B[2]; };
  }
  const yScale: any = {
    type: 'linear',
    min: Y_MIN,
    max: Y_MAX,
    display: showY,
    position: col === 2 ? 'right' : 'left',
    grid: { display: false, drawTicks: false },
    border: { display: false },
    ticks: {
      font: tickFont,
      color: '#111',
      padding: col === 0 ? 8 : 14,
      autoSkip: false,
      callback: (v: any) => Number(v).toFixed(1),
    },
    afterBuildTicks: (s: any) => { s.ticks = Y_TICKS.map((v) => ({ value: v })); },
  };
  if (showY) {
    yScale.afterFit = (s: any) => { s.width = col === 0 ? COL_L[0] : W - COL_R[2]; };
  }

  return {
    type: 'scatter' as const,
    data: { datasets },
    options: {
      responsive: false,
      animation: false as const,
      events: [],
      layout: {
        padding: {
          left: col === 0 ? 0 : COL_L[col],
          right: col === 2 ? 0 : W - COL_R[col],
          top: row === 0 ? 0 : ROW_T[row],
          bottom: row === 2 ? 0 : H - ROW_B[row],
        },
      },
      plugins: { legend: { display: false }, tooltip: { enabled: false }, title: { display: false } },
      scales: { x: xScale, y: yScale },
    },
    plugins: [decor],
  };
}

function Panel({ p }: { p: any }) {
  const ref = useRef<HTMLCanvasElement>(null);
  useEffect(() => {
    if (!ref.current) return;
    const chart = new Chart(ref.current, buildConfig(p) as any);
    return () => chart.destroy();
  }, [p]);
  return (
    <canvas
      ref={ref}
      width={W}
      height={H}
      style={{ position: 'absolute', left: 0, top: 0, width: W, height: H }}
    />
  );
}

export default function App() {
  return (
    <div style={{ position: 'absolute', left: 0, top: 0, width: W, height: H, background: '#ffffff' }}>
      {PANELS.map((p) => (
        <Panel key={p.id} p={p} />
      ))}
    </div>
  );
}
